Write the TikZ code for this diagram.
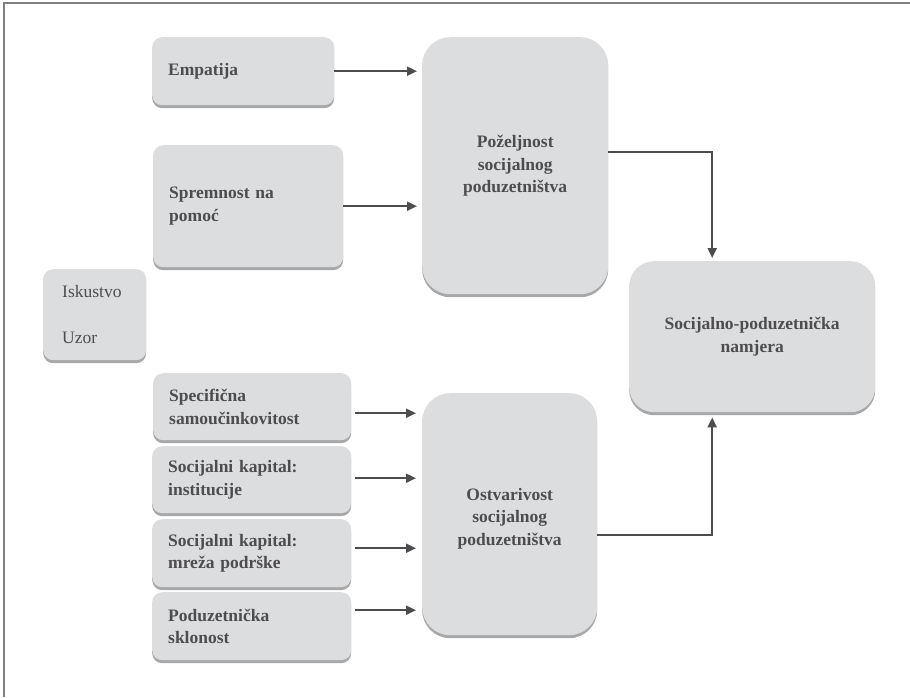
\documentclass[tikz,border=0pt]{standalone}
\usepackage{fontspec}
\setmainfont{Liberation Serif}
\usetikzlibrary{shadows,arrows.meta}
\definecolor{boxfill}{HTML}{DCDDDF}
\definecolor{boxshadow}{HTML}{A7A8AA}
\definecolor{txtcol}{HTML}{4D4D4F}
\definecolor{framecol}{HTML}{808080}
\tikzset{
  base/.style={fill=boxfill, draw=none, inner ysep=0pt, text=txtcol,
    font=\fontsize{17.5}{22.5}\selectfont\bfseries,
    drop shadow={shadow xshift=0pt, shadow yshift=-3pt, fill=boxshadow, opacity=1},
    anchor=north west},
  leftbox/.style 2 args={base, rounded corners=10pt, align=left, inner xsep=16pt,
    text width=#1pt-32pt, minimum height=#2pt},
  bigbox/.style 2 args={base, rounded corners=#2pt, align=center, inner xsep=8pt,
    text width=#1pt-16pt},
  conn/.style={draw=txtcol, line width=2pt, -{Triangle[length=10pt,width=9pt]}}
}
\begin{document}
\begin{tikzpicture}[x=1pt,y=-1pt]
\useasboundingbox (0,0) rectangle (910,697);
\draw[framecol, line width=1.5pt] (4,697) -- (4,3) -- (910,3);

\node[leftbox={182}{68}] (emp) at (152,37) {Empatija};
\node[leftbox={190}{122}] (spr) at (153,145) {Spremnost na\\pomoć};
\node[base, rounded corners=10pt, align=left, inner xsep=19pt, text width=103pt-38pt,
  minimum height=91pt, font=\fontsize{17.5}{22.5}\selectfont] (isk) at (43,269) {Iskustvo\\[23.5pt]Uzor};
\node[leftbox={198}{67}] (spe) at (153,373) {Specifična\\samoučinkovitost};
\node[leftbox={199}{67}] (ins) at (152,446) {Socijalni kapital:\\institucije};
\node[leftbox={199}{68}] (mre) at (152,519) {Socijalni kapital:\\mreža podrške};
\node[leftbox={199}{68}] (pod) at (152,592) {Poduzetnička\\sklonost};

\node[bigbox={186}{28}, minimum height=257pt] (poz) at (422,37) {Poželjnost\\socijalnog\\poduzetništva};
\node[bigbox={175}{28}, minimum height=242pt] (ost) at (422,393) {\\[-2pt]Ostvarivost\\socijalnog\\poduzetništva};
\node[bigbox={246}{25}, minimum height=151pt] (nam) at (629,261) {Socijalno-poduzetnička\\namjera};

\draw[conn, shorten >=5pt] (emp.east) -- (emp.east -| poz.west);
\draw[conn, shorten >=5pt] (spr.east) -- (spr.east -| poz.west);
\draw[conn, shorten <=4pt, shorten >=6pt] ([yshift=-6.5pt]spe.east) -- ([yshift=-6.5pt]spe.east -| ost.west);
\draw[conn, shorten <=4pt, shorten >=6pt] ([yshift=1.5pt]ins.east) -- ([yshift=1.5pt]ins.east -| ost.west);
\draw[conn, shorten <=4pt, shorten >=6pt] ([yshift=5pt]mre.east) -- ([yshift=5pt]mre.east -| ost.west);
\draw[conn, shorten <=4pt, shorten >=6pt] ([yshift=16pt]pod.east) -- ([yshift=16pt]pod.east -| ost.west);

\draw[conn, shorten >=3pt] ([yshift=14pt]poz.east) -| ([xshift=-40pt]nam.north);
\draw[conn, shorten >=5pt] ([yshift=-21pt]ost.east) -| ([xshift=-40pt]nam.south);
\end{tikzpicture}
\end{document}
